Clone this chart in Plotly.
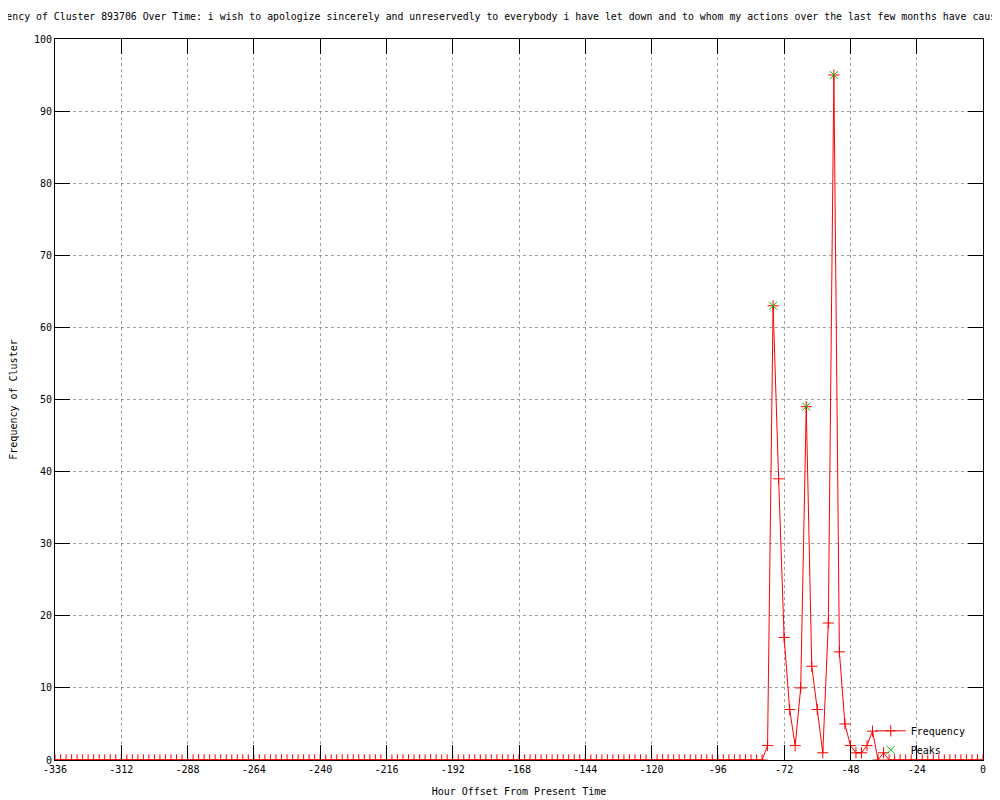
import plotly.graph_objects as go

# ---- data ----
hours = list(range(-336, 1, 2))
freq_leading_zeros = [0] * 129          # hours -336 .. -80
freq_active = [2, 63, 39, 17, 7, 2, 10, 49, 13, 7, 1, 19, 95, 15, 5, 2, 1, 1, 2, 4, 0, 1]   # hours -78 .. -36
freq_trailing_zeros = [0] * 18          # hours -34 .. 0
frequency = freq_leading_zeros + freq_active + freq_trailing_zeros

peak_hours = [-76, -64, -54]
peak_values = [63, 49, 95]

x_tick_vals = [-336, -312, -288, -264, -240, -216, -192, -168, -144, -120, -96, -72, -48, -24, 0]
x_tick_text = ["-336", "-312", "-288", "-264", "-240", "-216", "-192", "-168", "-144", "-120", "-96", "-72", "-48", "-24", "0"]
y_tick_vals = [0, 10, 20, 30, 40, 50, 60, 70, 80, 90, 100]
y_tick_text = ["0", "10", "20", "30", "40", "50", "60", "70", "80", "90", "100"]

title_text = ("Frequency of Cluster 893706 Over Time: i wish to apologize sincerely and unreservedly "
              "to everybody i have let down and to whom my actions over the last few months have caused distress")

FONT = "DejaVu Sans Mono"

fig = go.Figure()
fig.add_trace(go.Scatter(
    x=hours, y=frequency, mode="lines+markers", name="Frequency",
    line=dict(color="#ff0000", width=1),
    marker=dict(symbol="cross-thin", size=8, line=dict(color="#ff0000", width=1)),
))
fig.add_trace(go.Scatter(
    x=peak_hours, y=peak_values, mode="markers", name="Peaks",
    marker=dict(symbol="x-thin", size=8, line=dict(color="#00c000", width=1)),
))

axis_common = dict(
    showline=True, linecolor="black", linewidth=1, mirror="ticks",
    ticks="inside", ticklen=15, tickcolor="black", tickwidth=1,
    showgrid=True, gridcolor="#a0a0a0", gridwidth=1, griddash="dot",
    zeroline=False, automargin=False,
    tickfont=dict(family=FONT, size=10, color="black"),
)

fig.update_layout(
    width=1000, height=800,
    paper_bgcolor="white", plot_bgcolor="white",
    margin=dict(l=47, r=25, t=31, b=48, autoexpand=False),
    font=dict(family=FONT, size=10, color="black"),
    title=dict(text=title_text, x=0.5, xref="paper", xanchor="center",
               y=1 - 9 / 800, yanchor="middle", yref="container",
               font=dict(family=FONT, size=9.85, color="black")),
    xaxis=dict(range=[-336, 0], tickvals=x_tick_vals, ticktext=x_tick_text,
               title=dict(text="Hour Offset From Present Time", standoff=13,
                          font=dict(family=FONT, size=10)), **axis_common),
    yaxis=dict(range=[0, 100], tickvals=y_tick_vals, ticktext=y_tick_text,
               title=dict(text="Frequency of Cluster", standoff=14,
                          font=dict(family=FONT, size=10)), **axis_common),
    legend=dict(x=0.879, y=-0.006, xanchor="left", yanchor="bottom",
                bgcolor="rgba(0,0,0,0)", font=dict(family=FONT, size=10),
                tracegroupgap=0, itemwidth=30),
    showlegend=True,
)

fig.write_html("out.html")
